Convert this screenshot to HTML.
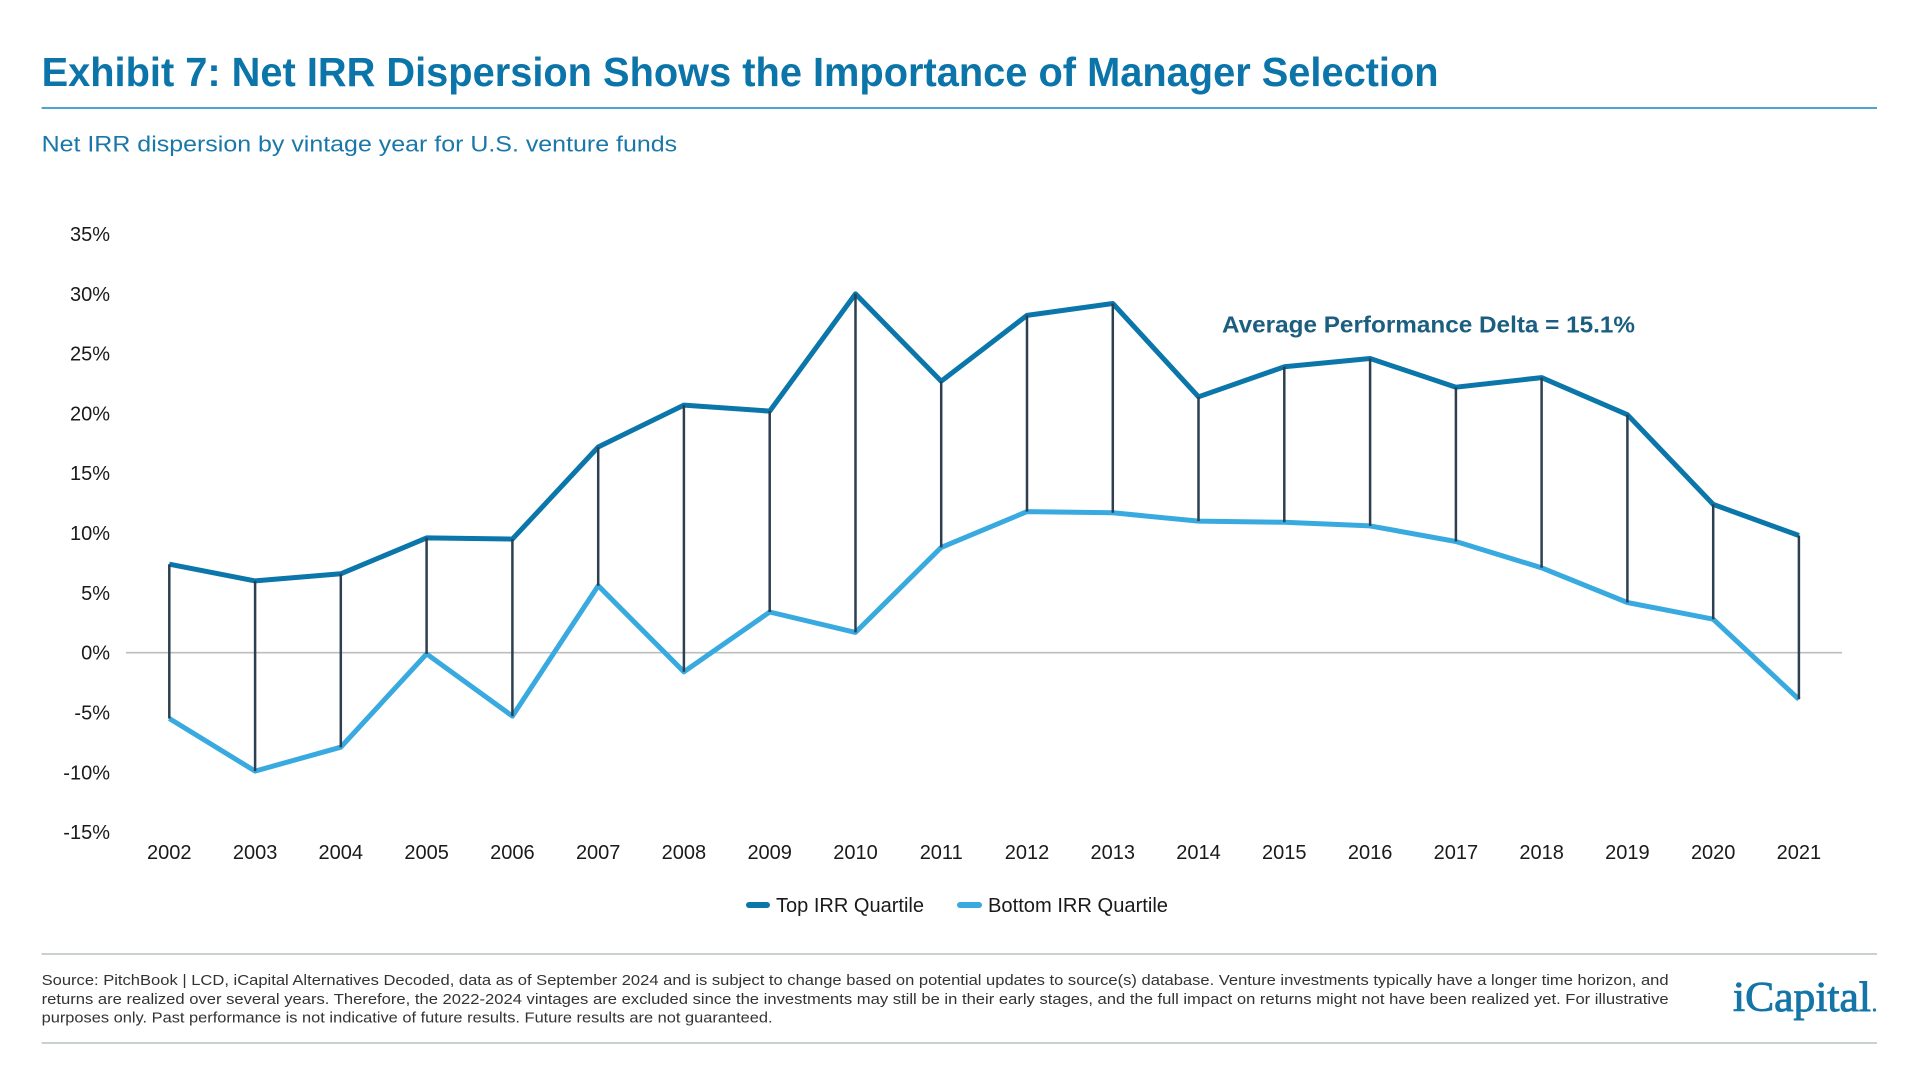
<!DOCTYPE html>
<html>
<head>
<meta charset="utf-8">
<style>
html,body{margin:0;padding:0;background:#ffffff;}
svg{display:block;}
text{font-family:"Liberation Sans",Arial,sans-serif;}
</style>
</head>
<body>
<svg width="1920" height="1080" viewBox="0 0 1920 1080" xmlns="http://www.w3.org/2000/svg">
<rect width="1920" height="1080" fill="#ffffff"/>

<!-- Title -->
<text x="41.6" y="86" font-size="41" font-weight="bold" fill="#0b74a8" textLength="1397" lengthAdjust="spacingAndGlyphs">Exhibit 7: Net IRR Dispersion Shows the Importance of Manager Selection</text>
<line x1="41.6" y1="108" x2="1877" y2="108" stroke="#4ea3cf" stroke-width="2"/>

<!-- Subtitle -->
<text x="41.6" y="151.7" font-size="22" fill="#1a77a9" textLength="635.5" lengthAdjust="spacingAndGlyphs">Net IRR dispersion by vintage year for U.S. venture funds</text>

<!-- Y axis labels -->
<g font-size="20" fill="#1a1a1a" text-anchor="end">
<text x="110" y="241">35%</text>
<text x="110" y="300.8">30%</text>
<text x="110" y="360.6">25%</text>
<text x="110" y="420.4">20%</text>
<text x="110" y="480.2">15%</text>
<text x="110" y="540">10%</text>
<text x="110" y="599.8">5%</text>
<text x="110" y="659.7">0%</text>
<text x="110" y="719.5">-5%</text>
<text x="110" y="779.3">-10%</text>
<text x="110" y="839.1">-15%</text>
</g>

<!-- Zero line -->
<line x1="126" y1="652.7" x2="1842" y2="652.7" stroke="#bdbdbd" stroke-width="1.6"/>

<!-- Series lines -->
<polyline fill="none" stroke="#0b76a9" stroke-width="5" stroke-linejoin="round" points="169.3,564.2 255.1,580.9 340.8,573.8 426.6,537.9 512.4,539.1 598.2,447.0 683.9,405.1 769.7,411.1 855.5,293.9 941.2,381.2 1027.0,315.4 1112.8,303.5 1198.5,396.8 1284.3,366.8 1370.1,358.5 1455.9,387.2 1541.6,377.6 1627.4,414.7 1713.2,504.4 1798.9,535.5"/>
<polyline fill="none" stroke="#38aae0" stroke-width="5" stroke-linejoin="round" points="169.3,718.5 255.1,771.1 340.8,747.2 426.6,653.9 512.4,716.1 598.2,585.7 683.9,671.8 769.7,612.0 855.5,632.4 941.2,547.4 1027.0,511.6 1112.8,512.8 1198.5,521.1 1284.3,522.3 1370.1,525.9 1455.9,541.5 1541.6,567.8 1627.4,602.5 1713.2,619.2 1798.9,699.3"/>

<!-- Vertical drop lines -->
<g stroke="#2d3f50" stroke-width="2.5">
<line x1="169.3" y1="564.2" x2="169.3" y2="718.5"/>
<line x1="255.1" y1="580.9" x2="255.1" y2="771.1"/>
<line x1="340.8" y1="573.8" x2="340.8" y2="747.2"/>
<line x1="426.6" y1="537.9" x2="426.6" y2="653.9"/>
<line x1="512.4" y1="539.1" x2="512.4" y2="716.1"/>
<line x1="598.2" y1="447.0" x2="598.2" y2="585.7"/>
<line x1="683.9" y1="405.1" x2="683.9" y2="671.8"/>
<line x1="769.7" y1="411.1" x2="769.7" y2="612.0"/>
<line x1="855.5" y1="293.9" x2="855.5" y2="632.4"/>
<line x1="941.2" y1="381.2" x2="941.2" y2="547.4"/>
<line x1="1027.0" y1="315.4" x2="1027.0" y2="511.6"/>
<line x1="1112.8" y1="303.5" x2="1112.8" y2="512.8"/>
<line x1="1198.5" y1="396.8" x2="1198.5" y2="521.1"/>
<line x1="1284.3" y1="366.8" x2="1284.3" y2="522.3"/>
<line x1="1370.1" y1="358.5" x2="1370.1" y2="525.9"/>
<line x1="1455.9" y1="387.2" x2="1455.9" y2="541.5"/>
<line x1="1541.6" y1="377.6" x2="1541.6" y2="567.8"/>
<line x1="1627.4" y1="414.7" x2="1627.4" y2="602.5"/>
<line x1="1713.2" y1="504.4" x2="1713.2" y2="619.2"/>
<line x1="1798.9" y1="535.5" x2="1798.9" y2="699.3"/>
</g>

<!-- Annotation -->
<text x="1222" y="332.5" font-size="23" font-weight="bold" fill="#1b5e80" textLength="413" lengthAdjust="spacingAndGlyphs">Average Performance Delta = 15.1%</text>

<!-- X axis labels -->
<g font-size="20" fill="#1a1a1a" text-anchor="middle">
<text x="169.3" y="859">2002</text>
<text x="255.1" y="859">2003</text>
<text x="340.8" y="859">2004</text>
<text x="426.6" y="859">2005</text>
<text x="512.4" y="859">2006</text>
<text x="598.2" y="859">2007</text>
<text x="683.9" y="859">2008</text>
<text x="769.7" y="859">2009</text>
<text x="855.5" y="859">2010</text>
<text x="941.2" y="859">2011</text>
<text x="1027.0" y="859">2012</text>
<text x="1112.8" y="859">2013</text>
<text x="1198.5" y="859">2014</text>
<text x="1284.3" y="859">2015</text>
<text x="1370.1" y="859">2016</text>
<text x="1455.9" y="859">2017</text>
<text x="1541.6" y="859">2018</text>
<text x="1627.4" y="859">2019</text>
<text x="1713.2" y="859">2020</text>
<text x="1798.9" y="859">2021</text>
</g>

<!-- Legend -->
<line x1="749" y1="905" x2="767" y2="905" stroke="#0b76a9" stroke-width="6" stroke-linecap="round"/>
<text x="776" y="912" font-size="20" fill="#1a1a1a" textLength="148" lengthAdjust="spacingAndGlyphs">Top IRR Quartile</text>
<line x1="960" y1="905" x2="979" y2="905" stroke="#38aae0" stroke-width="6" stroke-linecap="round"/>
<text x="988" y="912" font-size="20" fill="#1a1a1a" textLength="180" lengthAdjust="spacingAndGlyphs">Bottom IRR Quartile</text>

<!-- Footer -->
<line x1="41.6" y1="954" x2="1877" y2="954" stroke="#b8bfc3" stroke-width="1.5"/>
<g font-size="15" fill="#333333">
<text x="41.6" y="985" textLength="1627" lengthAdjust="spacingAndGlyphs">Source: PitchBook | LCD, iCapital Alternatives Decoded, data as of September 2024 and is subject to change based on potential updates to source(s) database. Venture investments typically have a longer time horizon, and</text>
<text x="41.6" y="1004" textLength="1627" lengthAdjust="spacingAndGlyphs">returns are realized over several years. Therefore, the 2022-2024 vintages are excluded since the investments may still be in their early stages, and the full impact on returns might not have been realized yet. For illustrative</text>
<text x="41.6" y="1022.5" textLength="731" lengthAdjust="spacingAndGlyphs">purposes only. Past performance is not indicative of future results. Future results are not guaranteed.</text>
</g>
<line x1="41.6" y1="1043" x2="1877" y2="1043" stroke="#b8bfc3" stroke-width="1.5"/>

<!-- Logo -->
<text x="1733" y="1011" font-size="42" fill="#1575a7" stroke="#1575a7" stroke-width="0.9" textLength="138" lengthAdjust="spacingAndGlyphs" style="font-family:'Liberation Serif',serif;">iCapital</text>
<circle cx="1874.5" cy="1010" r="1.6" fill="#1575a7"/>
</svg>
</body>
</html>
